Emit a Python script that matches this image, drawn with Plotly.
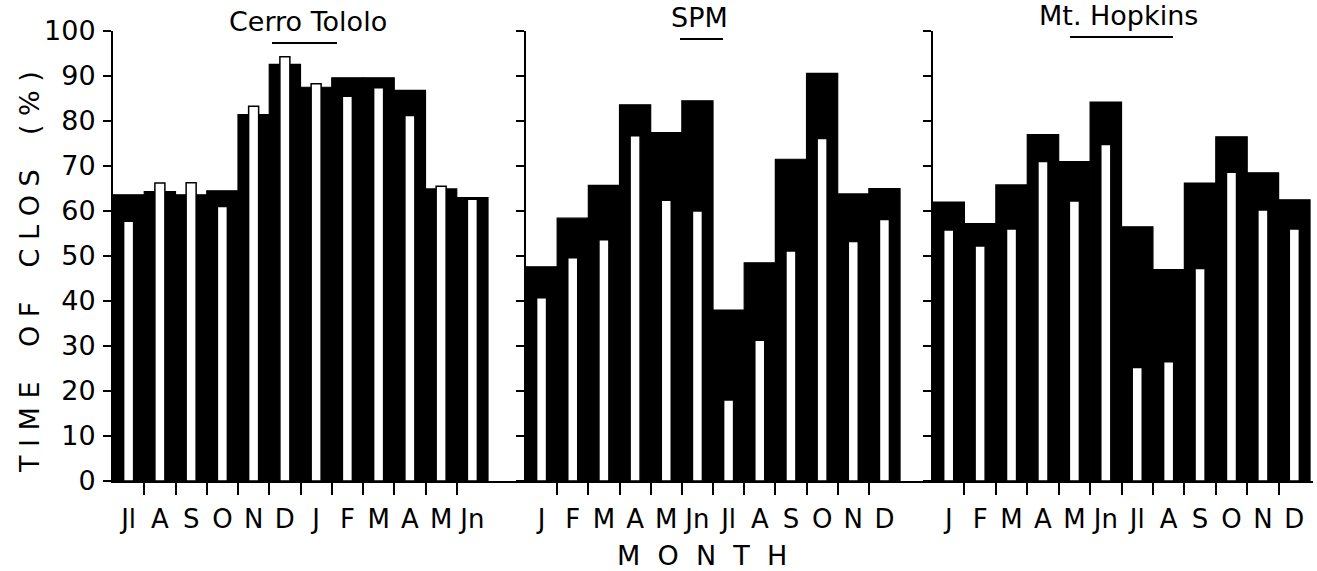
import plotly.graph_objects as go

W, H = 1317, 571

# ---------------- data ----------------
months_ct = ["Jl", "A", "S", "O", "N", "D", "J", "F", "M", "A", "M", "Jn"]
months_cal = ["J", "F", "M", "A", "M", "Jn", "Jl", "A", "S", "O", "N", "D"]

ct_black = [63.6, 64.3, 63.6, 64.5, 81.4, 92.6, 87.5, 89.6, 89.6, 86.8, 64.9, 63.0]
ct_white = [57.7, 66.2, 66.3, 61.0, 83.3, 94.3, 88.3, 85.5, 87.4, 81.2, 65.5, 62.6]

spm_black = [47.6, 58.4, 65.7, 83.6, 77.4, 84.5, 38.0, 48.5, 71.5, 90.6, 63.8, 65.0]
spm_white = [40.7, 49.6, 53.6, 76.7, 62.4, 60.0, 18.0, 31.3, 51.1, 76.1, 53.2, 58.1]

mh_black = [62.0, 57.2, 65.8, 77.0, 71.0, 84.2, 56.5, 47.0, 66.2, 76.5, 68.5, 62.5]
mh_white = [55.8, 52.2, 56.0, 71.0, 62.2, 74.8, 25.2, 26.5, 47.2, 68.6, 60.2, 56.0]

titles = ["Cerro Tololo", "SPM", "Mt. Hopkins"]
y_ticks = list(range(0, 101, 10))

# ---------------- layout helpers ----------------
def px(x):
    return x / W

def py(y):
    return 1 - y / H

panels = [
    dict(months=months_ct, black=ct_black, white=ct_white, x0=113, x1=526, mw=31.25),
    dict(months=months_cal, black=spm_black, white=spm_white, x0=526, x1=933, mw=31.17),
    dict(months=months_cal, black=mh_black, white=mh_white, x0=933, x1=1313, mw=31.42),
]

FONT = "DejaVu Sans"
ydom = [py(481), py(31)]

fig = go.Figure()
layout = dict(
    width=W, height=H,
    margin=dict(l=0, r=0, t=0, b=0, pad=0, autoexpand=False),
    paper_bgcolor="white", plot_bgcolor="white",
    showlegend=False,
    barmode="overlay",
    font=dict(family=FONT, color="black"),
)

for i, p in enumerate(panels):
    n = i + 1
    xs = list(range(len(p["months"])))
    xa = "x" if n == 1 else f"x{n}"
    xb = f"x{3 + n}"
    ya = "y" if n == 1 else f"y{n}"
    # black bars on the labelled base axis, white bars on the overlaid boundary-tick axis (drawn on top)
    fig.add_trace(go.Bar(
        x=xs, y=p["black"], width=1.0, xaxis=xa, yaxis=ya,
        marker=dict(color="black", line=dict(color="black", width=1.2)),
    ))
    fig.add_trace(go.Bar(
        x=xs, y=p["white"], width=0.32, xaxis=xb, yaxis=ya,
        marker=dict(color="white", line=dict(color="black", width=1.5)),
    ))
    rng = [-0.5, -0.5 + (p["x1"] - p["x0"]) / p["mw"]]
    dom = [px(p["x0"]), px(p["x1"])]
    kx = "xaxis" if n == 1 else f"xaxis{n}"
    ky = "yaxis" if n == 1 else f"yaxis{n}"
    layout[kx] = dict(
        domain=dom, range=rng, anchor=ya,
        tickmode="array", tickvals=xs, ticktext=p["months"],
        ticks="", ticklabelstandoff=14, automargin=False,
        tickfont=dict(size=26, family=FONT, color="black"),
        showline=True, linecolor="black", linewidth=2,
        showgrid=False, zeroline=False, fixedrange=True,
    )
    layout[f"xaxis{3 + n}"] = dict(
        overlaying=xa, anchor=ya, range=rng, side="bottom",
        tickmode="array", tickvals=[k + 0.5 for k in xs[:-1]],
        ticks="outside", ticklen=13, tickwidth=2, tickcolor="black",
        showticklabels=False, showline=False, showgrid=False, zeroline=False,
        automargin=False, fixedrange=True,
    )
    layout[ky] = dict(
        domain=ydom, range=[0, 100], anchor=xa,
        tickmode="array", tickvals=y_ticks,
        ticks="outside", ticklen=8, tickwidth=2, tickcolor="black",
        showticklabels=(n == 1), ticklabelstandoff=2, automargin=False,
        tickfont=dict(size=27, family=FONT, color="black"),
        showline=True, linecolor="black", linewidth=2,
        showgrid=False, zeroline=False, fixedrange=True,
    )

nb = "\u00a0"
ytitle = (nb * 4).join(nb.join(list(w)) for w in ["TIME", "OF", "CLOS", "(%)"])
xtitle = (nb * 2).join(list("MONTH"))

def ann(text, x, y, size, angle=0):
    return dict(text=text, x=px(x), y=py(y), xref="paper", yref="paper",
                xanchor="center", yanchor="middle", textangle=angle,
                showarrow=False, font=dict(size=size, family=FONT, color="black"))

layout["annotations"] = [
    ann(titles[0], 308, 21, 27),
    ann(titles[1], 700, 18, 27),
    ann(titles[2], 1118, 15, 27),
    ann(ytitle, 29, 272, 27, -90),
    ann(xtitle, 702, 555, 27),
]

underlines = [(272, 337, 43), (680, 723, 39), (1070, 1173, 37)]
layout["shapes"] = [
    dict(type="line", xref="paper", yref="paper", x0=px(a), x1=px(b), y0=py(yy), y1=py(yy),
         line=dict(color="black", width=2))
    for a, b, yy in underlines
]

fig.update_layout(**layout)
fig.write_html("out.html")
